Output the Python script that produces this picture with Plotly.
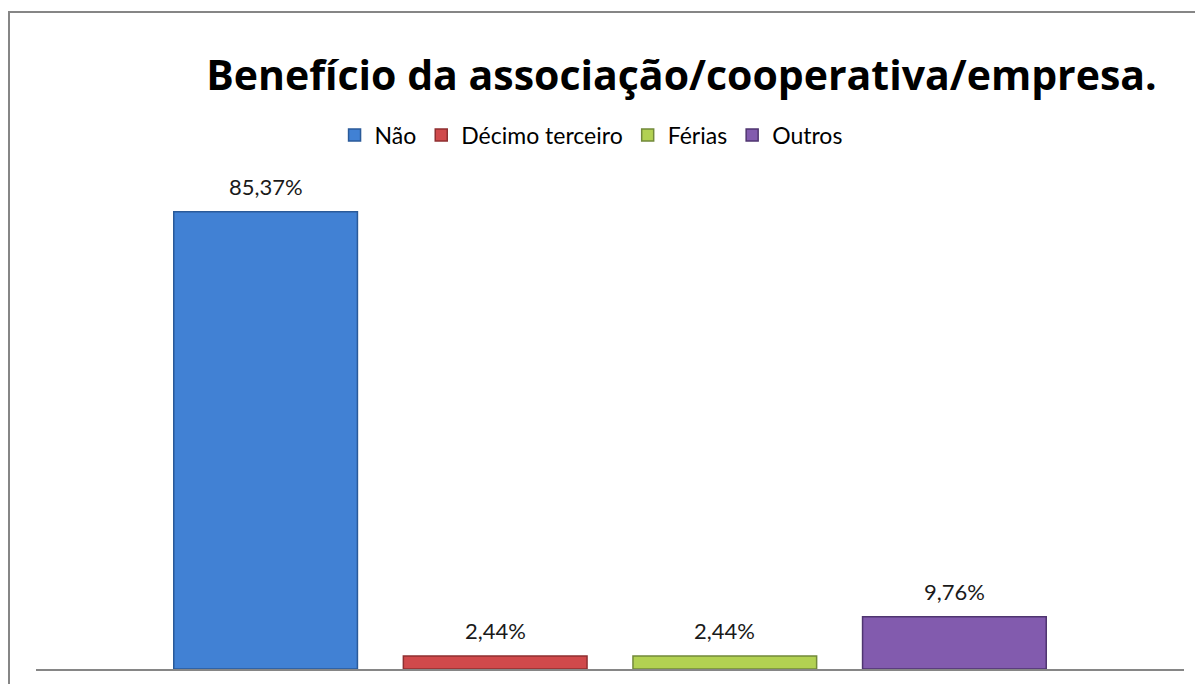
import plotly.graph_objects as go

series = ["Não", "Décimo terceiro", "Férias", "Outros"]
values = [85.37, 2.44, 2.44, 9.76]
category = ["Benefício"]
fill_colors = ["#4181D4", "#D0494B", "#B2D152", "#825BAE"]
edge_colors = ["#2A5A99", "#8E2F31", "#72893A", "#4F3570"]

BARGAP = 0.2
n = len(series)

fig = go.Figure()
for name, v, fc, ec in zip(series, values, fill_colors, edge_colors):
    fig.add_trace(go.Bar(
        name=name,
        x=category,
        y=[v],
        marker=dict(color=fc, line=dict(color=ec, width=1.5)),
    ))

# data labels placed above each grouped bar
slot = (1 - BARGAP) / n
for i, v in enumerate(values):
    fig.add_annotation(
        x=-0.5 + BARGAP / 2 + slot * (i + 0.5), y=v, xref="x", yref="y",
        text=f"{v:.2f}%".replace(".", ","), showarrow=False,
        yanchor="bottom", yshift=10,
        font=dict(family="Lato", size=22, color="#1a1a1a"),
    )

W, H = 1187, 676
fig.update_layout(
    width=W, height=H,
    margin=dict(l=28, r=W - 1176, t=179, b=H - 661),
    paper_bgcolor="white", plot_bgcolor="white",
    barmode="group", bargap=BARGAP, bargroupgap=0.2,
    title=dict(
        text="<b>Benefício da associação/cooperativa/empresa.</b>",
        font=dict(family="Open Sans", size=41, color="black"),
        x=673.5 / W, xref="container", xanchor="center",
        y=1 - 68 / H, yref="container", yanchor="middle",
    ),
    legend=dict(
        orientation="h", x=0.4835, xanchor="center", y=1.108, yanchor="middle",
        font=dict(family="Lato", size=23, color="black"),
        traceorder="normal",
    ),
    xaxis=dict(showticklabels=False, ticks="", showline=True, linecolor="#868686",
               linewidth=2, showgrid=False, zeroline=False),
    yaxis=dict(range=[0, 90], visible=False, showgrid=False, zeroline=False),
    showlegend=True,
)

fig.add_shape(
    type="rect", xref="paper", yref="paper",
    x0=(9 - 36) / 1148, x1=(1260 - 36) / 1148,
    y0=(669 - 740) / 482, y1=(669 - 12) / 482,
    line=dict(color="#868686", width=2), fillcolor="rgba(0,0,0,0)", layer="below",
)

fig.write_html("out.html")
